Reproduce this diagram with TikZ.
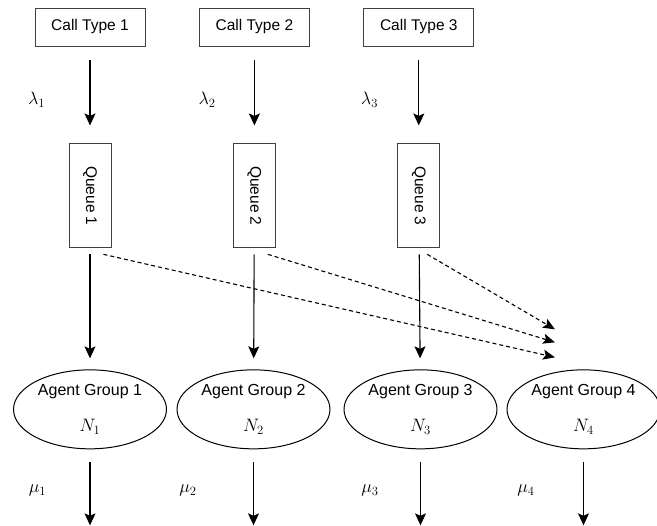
\documentclass[tikz,border=0pt]{standalone}
\usepackage{fix-cm}
\usepackage{fontspec}
\setmainfont{Liberation Sans}
\usetikzlibrary{shapes,arrows.meta,positioning,calc}

\begin{document}
\begin{tikzpicture}[
    x=1pt, y=1pt,
    callbox/.style={rectangle, draw=black!75, line width=0.9pt, inner sep=0pt, minimum width=110pt, minimum height=38pt, font=\fontsize{15.5}{18}\selectfont},
    qbox/.style={rectangle, draw=black!75, line width=0.9pt, inner sep=0pt, minimum width=42pt, minimum height=104pt, font=\fontsize{15.5}{18}\selectfont},
    agent/.style={ellipse, draw=black, line width=1pt, inner sep=0pt, align=center, minimum width=153pt, minimum height=79pt, font=\fontsize{16}{19}\selectfont},
    arr/.style={-{Stealth[length=12pt, width=11pt, inset=2.5pt]}, line width=1.1pt},
    darr/.style={-{Stealth[length=12pt, width=10pt, inset=2.5pt]}, line width=1.1pt, dash pattern=on 4pt off 3pt},
    lbl/.style={font=\fontsize{18}{21}\selectfont}
]
    \useasboundingbox (0,0) rectangle (657,526);

    % call types
    \node [callbox] (ct1) at (90,499) {Call Type 1};
    \node [callbox, right=53.5pt of ct1] (ct2) {Call Type 2};
    \node [callbox, right=53.5pt of ct2] (ct3) {Call Type 3};

    % queues
    \node [qbox, below=97pt of ct1] (q1) {\rotatebox{-90}{Queue 1}};
    \node [qbox, below=97pt of ct2] (q2) {\rotatebox{-90}{Queue 2}};
    \node [qbox, below=97pt of ct3] (q3) {\rotatebox{-90}{Queue 3}};

    % agent groups
    \node [agent, below=121pt of q1] (ag1) {Agent Group 1\\[17pt]{\fontsize{18}{21}\selectfont$N_1$}};
    \node [agent, right=9.5pt of ag1] (ag2) {Agent Group 2\\[17pt]{\fontsize{18}{21}\selectfont$N_2$}};
    \node [agent, right=13pt of ag2] (ag3) {Agent Group 3\\[17pt]{\fontsize{18}{21}\selectfont$N_3$}};
    \node [agent, right=9pt of ag3] (ag4) {Agent Group 4\\[17pt]{\fontsize{18}{21}\selectfont$N_4$}};

    \coordinate [below=76pt of ag1.south] (o1);
    \coordinate [below=76pt of ag2.south] (o2);
    \coordinate [below=76pt of ag3.south] (o3);
    \coordinate [below=76pt of ag4.south] (o4);

    \coordinate (d1) at ($(ag4)+(-28.5,52)$);
    \coordinate (d2) at ($(ag4)+(-28.5,67)$);
    \coordinate (d3) at ($(ag4)+(-28.5,80)$);

    % arrivals
    \draw [arr, shorten <=14pt, shorten >=18pt] (ct1) -- node [lbl, pos=0.55, left=41pt] {$\lambda_1$} (q1);
    \draw [arr, shorten <=14pt, shorten >=18pt] (ct2) -- node [lbl, pos=0.55, left=35pt] {$\lambda_2$} (q2);
    \draw [arr, shorten <=14pt, shorten >=18pt] (ct3) -- node [lbl, pos=0.55, left=37pt] {$\lambda_3$} (q3);

    % routing
    \draw [darr] ($(q1.south east)+(-8,-6)$) -- (d1);
    \draw [darr] ($(q2.south east)+(-8,-6)$) -- (d2);
    \draw [darr] ($(q3.south east)+(-13,-6)$) -- (d3);

    \draw [arr, shorten <=6pt, shorten >=11pt] (q1) -- (ag1);
    \draw [arr, shorten <=6pt, shorten >=11pt] (q2) -- (ag2);
    \draw [arr, shorten <=6pt, shorten >=11pt] (q3) -- (ag3);

    % services
    \draw [arr, shorten <=13pt] (ag1) -- node [lbl, pos=0.54, left=40pt] {$\mu_1$} (o1);
    \draw [arr, shorten <=13pt] (ag2) -- node [lbl, pos=0.54, left=53pt] {$\mu_2$} (o2);
    \draw [arr, shorten <=13pt] (ag3) -- node [lbl, pos=0.54, left=38pt] {$\mu_3$} (o3);
    \draw [arr, shorten <=13pt] (ag4) -- node [lbl, pos=0.54, left=45pt] {$\mu_4$} (o4);
\end{tikzpicture}
\end{document}
